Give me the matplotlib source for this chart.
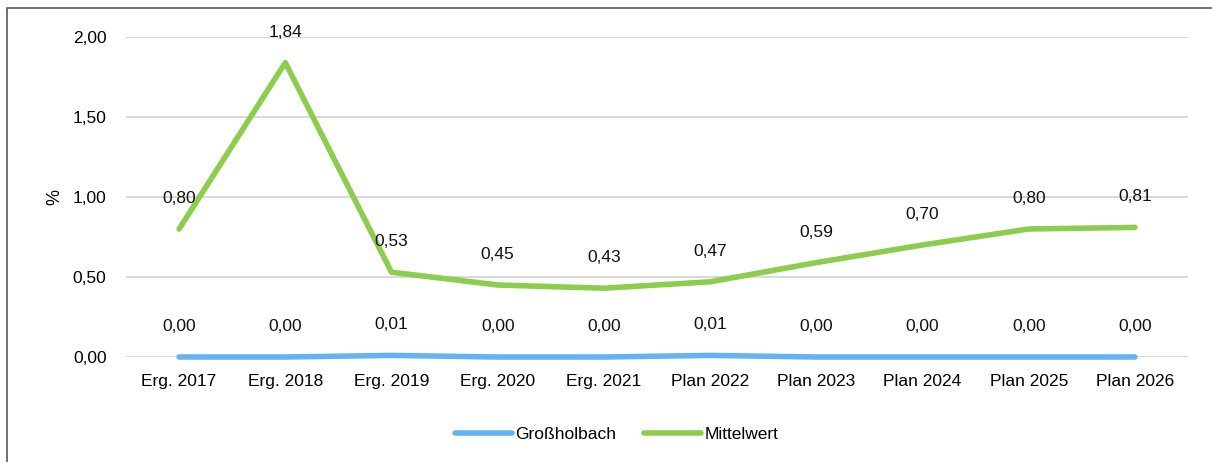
#!/usr/bin/env python3

import matplotlib.pyplot as plt
from matplotlib.patches import Rectangle


CATEGORIES = [
    "Erg. 2017", "Erg. 2018", "Erg. 2019", "Erg. 2020", "Erg. 2021",
    "Plan 2022", "Plan 2023", "Plan 2024", "Plan 2025", "Plan 2026",
]
GROSSHOLBACH = [0.00, 0.00, 0.01, 0.00, 0.00, 0.01, 0.00, 0.00, 0.00, 0.00]
MITTELWERT = [0.80, 1.84, 0.53, 0.45, 0.43, 0.47, 0.59, 0.70, 0.80, 0.81]
Y_TICKS = [0.0, 0.5, 1.0, 1.5, 2.0]

BLUE = "#63B3F0"
GREEN = "#8CCD4E"

plt.rcParams["font.family"] = ["Liberation Sans", "DejaVu Sans"]


def fmt(v: float) -> str:
    return f"{v:.2f}".replace(".", ",")


def main() -> None:
    W, H = 1212, 462
    fig = plt.figure(figsize=(W / 100, H / 100), dpi=100)
    # plot area in pixels: x 126..1188, y 37..357
    ax = fig.add_axes([126 / W, 1 - 357 / H, (1188 - 126) / W, (357 - 37) / H])

    x = list(range(len(CATEGORIES)))
    ax.plot(x, GROSSHOLBACH, color=BLUE, linewidth=4, solid_capstyle="round",
            label="Großholbach", zorder=3, clip_on=False)
    ax.plot(x, MITTELWERT, color=GREEN, linewidth=4, solid_capstyle="round",
            label="Mittelwert", zorder=3, clip_on=False)

    for series in (GROSSHOLBACH, MITTELWERT):
        for xi, v in zip(x, series):
            ax.annotate(fmt(v), (xi, v), xytext=(0, 22), textcoords="offset points",
                        ha="center", va="center", fontsize=12.5, color="#111111")

    ax.set_xlim(-0.5, len(CATEGORIES) - 0.5)
    ax.set_ylim(0, 2.0)
    ax.set_yticks(Y_TICKS)
    ax.set_yticklabels([fmt(t) for t in Y_TICKS], fontsize=12.5)
    ax.set_xticks(x)
    ax.set_xticklabels(CATEGORIES, fontsize=12.5)
    ax.tick_params(axis="x", length=0, pad=12)
    ax.tick_params(axis="y", length=0, pad=14)
    ax.set_ylabel("%", fontsize=13, labelpad=7)

    for s in ax.spines.values():
        s.set_visible(False)
    ax.grid(True, axis="y", color="#D9D9D9", linewidth=1.5)
    ax.set_axisbelow(True)

    ax.legend(loc="upper center", bbox_to_anchor=(0.462, -0.17), ncol=2,
              frameon=False, fontsize=12.5, handlelength=3.3, handletextpad=0.2,
              columnspacing=1.6)

    fig.patches.append(Rectangle((7 / W, -0.1), 1.1, 1 - 8 / H + 0.1,
                                 transform=fig.transFigure, fill=False,
                                 edgecolor="#595959", linewidth=1.2))

    plt.savefig("out.png", dpi=100)
    plt.close(fig)


if __name__ == "__main__":
    main()
